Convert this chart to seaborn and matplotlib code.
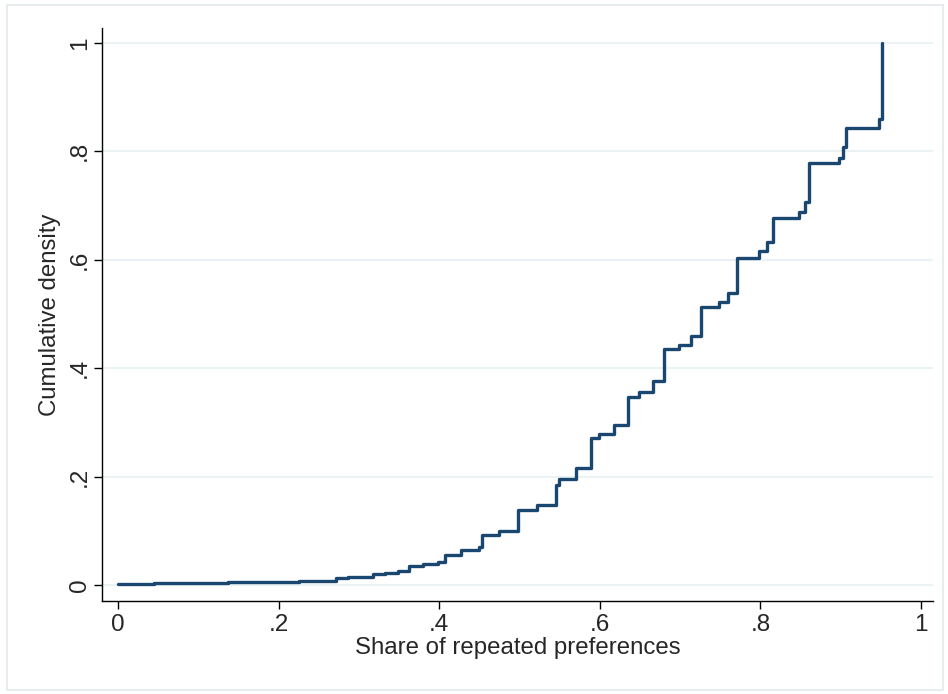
import matplotlib
matplotlib.use("Agg")
import matplotlib.pyplot as plt
import seaborn as sns
import pandas as pd
from matplotlib.patches import Rectangle

# step points of the empirical CDF (x = share, y = cumulative density)
share = [0.000, 0.045, 0.098, 0.137, 0.189, 0.226, 0.271, 0.286, 0.317, 0.332,
         0.349, 0.362, 0.380, 0.399, 0.407, 0.427, 0.449, 0.453, 0.475, 0.498,
         0.522, 0.545, 0.549, 0.570, 0.589, 0.599, 0.618, 0.635, 0.649, 0.666,
         0.680, 0.699, 0.713, 0.726, 0.749, 0.760, 0.771, 0.798, 0.808, 0.816,
         0.848, 0.856, 0.861, 0.898, 0.903, 0.907, 0.948, 0.951, 0.952]
cumdens = [0.001, 0.003, 0.004, 0.005, 0.006, 0.007, 0.013, 0.015, 0.021, 0.023,
           0.026, 0.035, 0.039, 0.042, 0.056, 0.064, 0.070, 0.092, 0.100, 0.138,
           0.148, 0.184, 0.195, 0.216, 0.271, 0.279, 0.296, 0.347, 0.356, 0.376,
           0.435, 0.443, 0.460, 0.513, 0.523, 0.539, 0.604, 0.617, 0.632, 0.678,
           0.689, 0.706, 0.779, 0.788, 0.809, 0.844, 0.859, 0.876, 1.000]

tick_vals = [0, 0.2, 0.4, 0.6, 0.8, 1]
tick_labels = ["0", ".2", ".4", ".6", ".8", "1"]

df = pd.DataFrame({"share": share, "cdf": cumdens})

sns.set_style("white")
plt.rcParams["font.family"] = ["Liberation Sans", "DejaVu Sans"]

fig = plt.figure(figsize=(9.48, 6.94), dpi=100)
ax = fig.add_axes([0.1076, 0.134, 0.8766, 0.8257])

# outer frame of the graph region
fig.patches.append(Rectangle((0.007, 0.006), 0.988, 0.987, transform=fig.transFigure,
                             fill=False, edgecolor="#e3e9ec", linewidth=1.2))

sns.lineplot(data=df, x="share", y="cdf", drawstyle="steps-post",
             color="#1a476f", linewidth=2.4, ax=ax, sort=False)

ax.set_xlim(-0.0199, 1.015)
ax.set_ylim(-0.0295, 1.0277)

ax.set_xticks(tick_vals)
ax.set_xticklabels(tick_labels, fontsize=17.5)
ax.set_yticks(tick_vals)
ax.set_yticklabels(tick_labels, fontsize=17.5, rotation=90, va="center")

ax.yaxis.grid(True, color="#eaf2f3", linewidth=1.5)
ax.xaxis.grid(False)
ax.set_axisbelow(True)

for side in ["top", "right"]:
    ax.spines[side].set_visible(False)
for side in ["left", "bottom"]:
    ax.spines[side].set_color("black")
    ax.spines[side].set_linewidth(1.0)

ax.tick_params(axis="x", direction="out", length=6, width=1.0,
               color="black", bottom=True, pad=3)
ax.tick_params(axis="y", direction="out", length=6, width=1.0,
               color="black", left=True, pad=2)

ax.set_xlabel("Share of repeated preferences", fontsize=17.3, labelpad=1)
ax.set_ylabel("Cumulative density", fontsize=17.3, labelpad=6)

fig.savefig("out.png", dpi=100)
